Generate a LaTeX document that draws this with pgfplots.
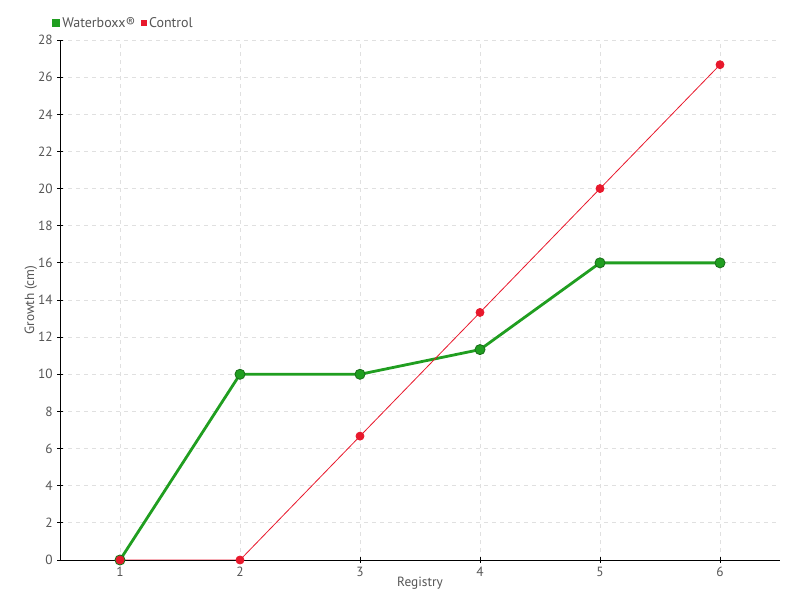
\documentclass[border=0pt]{standalone}
\usepackage{pgfplots}
\pgfplotsset{compat=1.18}
\usepackage{fontspec}
\setmainfont{PT Sans}
\definecolor{wbgreen}{RGB}{32,158,32}
\definecolor{wbgreendark}{RGB}{24,110,24}
\definecolor{ctrlred}{RGB}{232,24,44}
\definecolor{txtgray}{RGB}{85,85,85}
\definecolor{gridgray}{RGB}{224,224,224}
\begin{document}
\begin{tikzpicture}
\begin{axis}[
    at={(0,0)}, anchor=south west,
    scale only axis,
    width=540pt, height=390pt,
    xmin=0.5, xmax=6.5,
    ymin=0, ymax=28,
    xtick={1,...,6},
    ytick={0,2,...,28},
    axis x line*=bottom,
    axis y line*=left,
    axis line style={-, black, line width=0.6pt},
    tick align=center,
    major tick length=4pt,
    tick style={black, line width=0.6pt},
    xmajorgrids, ymajorgrids,
    grid style={dashed, gridgray, line width=0.6pt},
    ticklabel style={font=\fontsize{10}{11}\selectfont, text=txtgray},
    /pgf/number format/assume math mode=true,
    xlabel={Registry},
    ylabel={Growth (cm)},
    label style={font=\fontsize{10}{11}\selectfont, text=txtgray},
    xlabel style={yshift=7pt},
    ylabel style={yshift=-6pt},
    legend columns=2,
    legend style={at={(-0.017,1.01)}, anchor=south west, draw=none, fill=none,
        font=\fontsize{10.5}{12}\selectfont, text=txtgray,
        /tikz/every even column/.append style={column sep=2pt}},
]
\addplot[wbgreen, line width=2.1pt, mark=*, mark size=3.8pt,
    mark options={fill=wbgreen, draw=wbgreendark, line width=0.6pt},
    legend image code/.code={\fill[wbgreen] (0pt,-1.8pt) rectangle (3.6pt,1.8pt);}]
coordinates {(1,0) (2,10) (3,10) (4,11.33) (5,16) (6,16)};
\addlegendentry{Waterboxx®}
\addplot[ctrlred, line width=0.6pt, mark=*, mark size=3pt,
    mark options={fill=ctrlred, draw=ctrlred},
    legend image code/.code={\fill[ctrlred] (0pt,-1.8pt) rectangle (3.6pt,1.8pt);}]
coordinates {(1,0) (2,0) (3,6.67) (4,13.33) (5,20) (6,26.67)};
\addlegendentry{Control}
\end{axis}
\path[use as bounding box] (-45pt,-30pt) rectangle (555pt,420pt);
\end{tikzpicture}
\end{document}
